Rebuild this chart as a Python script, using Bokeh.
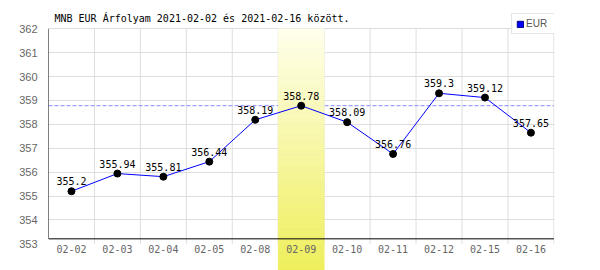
import numpy as np
from bokeh.plotting import figure
from bokeh.models import Range1d, FixedTicker, Span, Label, Legend, LegendItem, ColumnDataSource
from bokeh.core.properties import value
from bokeh.embed import file_html
from bokeh.resources import INLINE

# ---- data ----
dates = ["02-02", "02-03", "02-04", "02-05", "02-08", "02-09",
         "02-10", "02-11", "02-12", "02-15", "02-16"]
rates = [355.2, 355.94, 355.81, 356.44, 358.19, 358.78,
         358.09, 356.76, 359.3, 359.12, 357.65]
rate_labels = ["355.2", "355.94", "355.81", "356.44", "358.19", "358.78",
               "358.09", "356.76", "359.3", "359.12", "357.65"]
y_ticks = [353, 354, 355, 356, 357, 358, 359, 360, 361, 362]
highlight_index = 5
series_name = "EUR"
title_text = "MNB EUR Árfolyam 2021-02-02 és 2021-02-16 között."

# ---- layout ----
n = len(dates)
xc = [i + 0.5 for i in range(n)]
y_lo, y_hi = y_ticks[0], y_ticks[-1]
px_per_unit = 215.3 / (y_hi - y_lo)
y_start = y_lo - 26.7 / px_per_unit
y_end = y_hi + 28.3 / px_per_unit
x_end = n + 0.6 / 46.0

p = figure(width=600, height=270, output_backend="svg", toolbar_location=None,
           x_range=Range1d(0, x_end), y_range=Range1d(y_start, y_end),
           x_axis_location=None,
           min_border_left=48, min_border_right=46, min_border_top=0, min_border_bottom=0)
p.outline_line_color = None
p.background_fill_color = "white"
p.border_fill_color = "white"
p.xgrid.visible = False
p.ygrid.ticker = FixedTicker(ticks=y_ticks[1:])
p.ygrid.grid_line_color = "#dddddd"

ax = p.yaxis[0]
ax.ticker = FixedTicker(ticks=y_ticks)
ax.axis_line_color = None
ax.major_tick_line_color = None
ax.minor_tick_line_color = None
ax.major_label_standoff = 5
ax.major_label_text_font = "Liberation Sans"
ax.major_label_text_font_size = "11px"
ax.major_label_text_color = "#666666"

# vertical grid lines at category boundaries
bounds = list(range(1, n + 1))
p.segment(x0=bounds, y0=[y_lo] * len(bounds), x1=bounds, y1=[y_hi] * len(bounds),
          line_color="#dddddd", line_width=1)

# dashed reference line at highlighted value (under highlight)
p.segment(x0=[0], y0=[rates[highlight_index]], x1=[n], y1=[rates[highlight_index]],
          line_color="#8888ff", line_dash="4 2", line_width=1)

# highlight column with vertical gradient
nb = 60
edges = np.linspace(y_start, y_hi, nb + 1)
top_c = np.array([255, 255, 236])
bot_c = np.array([238, 238, 90])
cols = []
for i in range(nb):
    t = 1 - (i + 0.5) / nb  # 0 at top, 1 at bottom
    c = top_c + (bot_c - top_c) * t
    cols.append("#%02x%02x%02x" % tuple(int(round(v)) for v in c))
p.quad(left=[highlight_index] * nb, right=[highlight_index + 1] * nb,
       bottom=edges[:-1], top=edges[1:], fill_color=cols, line_color=cols, line_width=0.6)

# axis lines
axis_y = y_lo + 5.0 / px_per_unit
p.segment(x0=[0, 0], y0=[axis_y, axis_y], x1=[0, n], y1=[y_hi, axis_y],
          line_color="black", line_width=1)

# legend proxy (zero-size quad hidden under the first marker)
proxy = p.quad(left=[xc[0]], right=[xc[0]], bottom=[rates[0]], top=[rates[0]],
               fill_color="#0000ff", line_color="#000080", line_width=1)

# series
src = ColumnDataSource(dict(x=xc, y=rates, lab=rate_labels))
p.line("x", "y", source=src, line_color="#0000ff", line_width=1)
p.scatter("x", "y", source=src, size=7, fill_color="black", line_color="black")
p.text("x", "y", text="lab", source=src, text_font=value("DejaVu Sans Mono"),
       text_font_size="10px", text_align="center", text_baseline="middle",
       y_offset=-10, text_color="black")

# x labels
p.text(x=xc, y=[y_lo] * n, text=dates, text_font=value("DejaVu Sans Mono"),
       text_font_size="10px", text_align="center", text_baseline="middle",
       y_offset=5, text_color="#666666")

# title
p.add_layout(Label(x=6, y=252, x_units="screen", y_units="screen", text=title_text,
                   text_font="DejaVu Sans Mono", text_font_size="10px",
                   text_baseline="middle", text_color="black"))

# legend
legend = Legend(items=[LegendItem(label=series_name, renderers=[proxy])],
                location=(463, 236), orientation="vertical",
                glyph_width=8, glyph_height=8, label_height=10, label_width=24,
                label_standoff=2, padding=4, spacing=0, margin=0,
                label_text_font="Liberation Sans", label_text_font_size="10px",
                label_text_color="#555555", label_text_baseline="middle",
                border_line_color="#cccccc", border_line_width=1,
                background_fill_color="white", background_fill_alpha=1.0)
p.add_layout(legend)

open("out.html", "w").write(file_html(p, INLINE))
